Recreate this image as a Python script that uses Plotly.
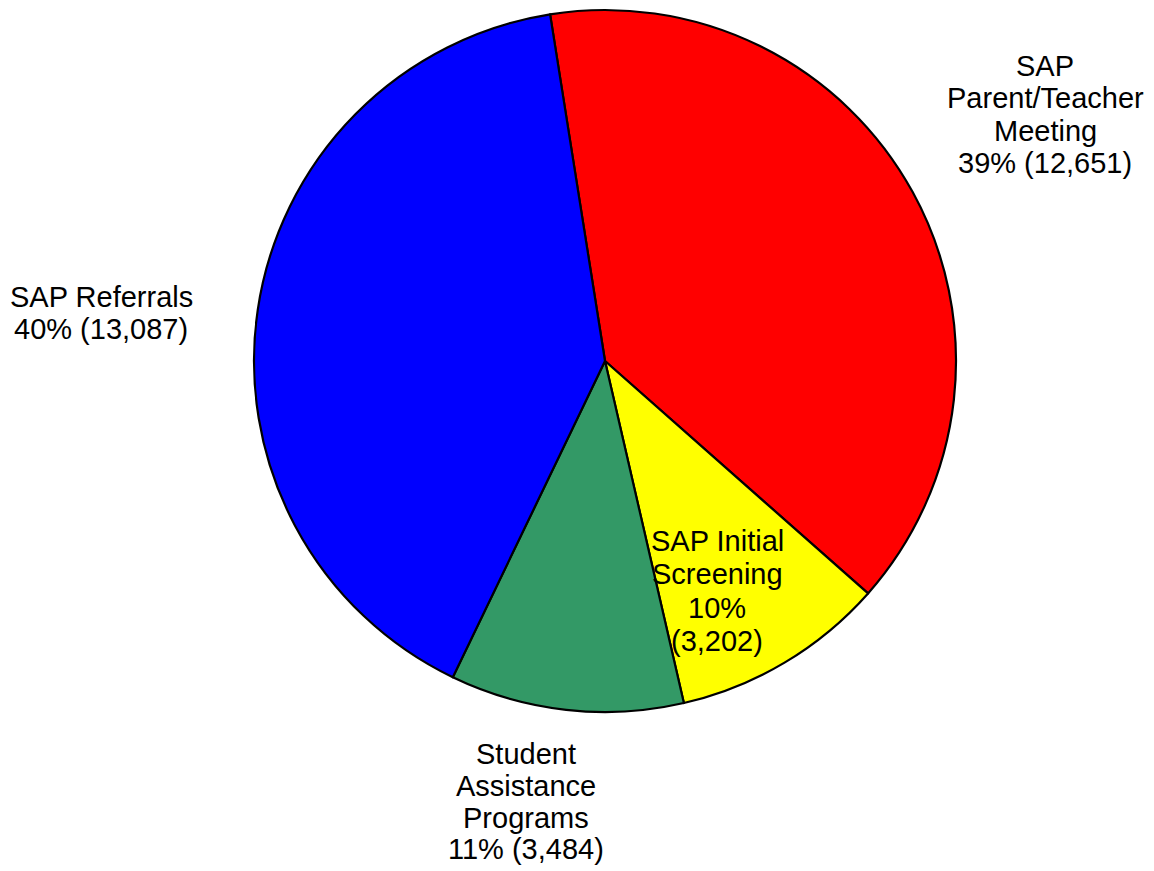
import plotly.graph_objects as go

# Slice data, listed clockwise from the top
categories = ["SAP Parent/Teacher Meeting", "SAP Initial Screening",
              "Student Assistance Programs", "SAP Referrals"]
counts = [12651, 3202, 3484, 13087]
label_words = [["SAP", "Parent/Teacher", "Meeting"],
               ["SAP Initial", "Screening"],
               ["Student", "Assistance", "Programs"],
               ["SAP Referrals"]]
colors = ["#FF0000", "#FFFF00", "#339966", "#0000FF"]

W, H = 1154, 871
total = sum(counts)


def label_lines(i):
    pct = round(counts[i] / total * 100)
    lines = list(label_words[i])
    if i == 1:
        lines += [f"{pct}%", f"({counts[i]:,})"]
    else:
        lines += [f"{pct}% ({counts[i]:,})"]
    return lines


# label placement: centre x (px), first-line centre y (px), line step (px)
label_pos = [(1045, 66, 32.4), (717, 541, 33.4), (526, 754, 31.8), (101, 297, 32.0)]

fig = go.Figure(go.Pie(
    labels=categories,
    values=counts,
    sort=False,
    direction="clockwise",
    rotation=-9,
    marker=dict(colors=colors, line=dict(color="black", width=2.2)),
    textinfo="none",
    hoverinfo="label+value+percent",
    showlegend=False,
    domain=dict(x=[254 / W, 956 / W], y=[1 - 712 / H, 1 - 10 / H]),
))

annotations = []
for i in range(len(categories)):
    cx, y0, step = label_pos[i]
    for k, line in enumerate(label_lines(i)):
        annotations.append(dict(
            text=line, x=cx / W, y=1 - (y0 + k * step) / H,
            xref="paper", yref="paper", xanchor="center", yanchor="middle",
            showarrow=False,
            font=dict(family="Arial, Liberation Sans", size=29, color="black"),
        ))

fig.update_layout(
    width=W, height=H,
    margin=dict(l=0, r=0, t=0, b=0),
    paper_bgcolor="white", plot_bgcolor="white",
    annotations=annotations,
)

fig.write_html("out.html")
